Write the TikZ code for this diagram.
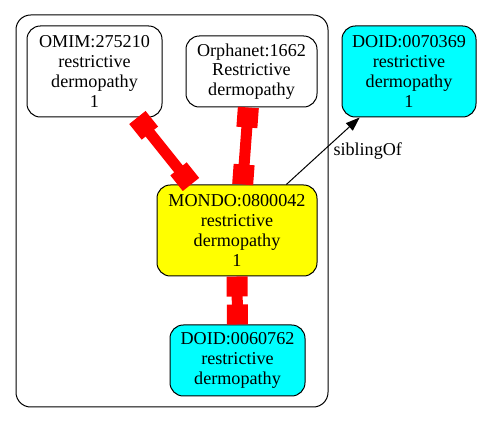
\documentclass[tikz,border=0pt]{standalone}
\usepackage{fontspec}
\setmainfont{Liberation Serif}
\usetikzlibrary{arrows.meta}
\definecolor{gvcyan}{RGB}{0,255,255}
\definecolor{gvyellow}{RGB}{255,255,0}
\definecolor{gvred}{RGB}{255,0,0}
\begin{document}
\begin{tikzpicture}[x=0.75pt,y=-0.75pt,
  termbox/.style={draw=black, line width=0.75pt, rounded corners=10pt, align=center,
    inner sep=0pt, font=\fontsize{13.6}{14.8}\selectfont},
  xref/.style={draw=gvred, line width=8.25pt,
    {Rectangle[length=15pt,width=15.75pt]}-{Rectangle[length=15pt,width=15.75pt]}},
  relarrow/.style={draw=black, line width=0.75pt, -{Triangle[length=10.5pt,width=7.5pt]}},
  rellabel/.style={font=\fontsize{13.6}{14.8}\selectfont, inner sep=0pt}]
\useasboundingbox (0,0) rectangle (482,423);
\draw[line width=0.75pt, rounded corners=11pt] (16,15) rectangle (328,407);
\node[termbox, fill=white, minimum width=101.25pt, minimum height=68.25pt] (omim) at (94.5,71.5)
  {OMIM:275210\\restrictive\\dermopathy\\1};
\node[termbox, fill=white, minimum width=98.25pt, minimum height=53.25pt] (orpha) at (251.5,71.5)
  {Orphanet:1662\\Restrictive\\dermopathy};
\node[termbox, fill=gvcyan, minimum width=100.5pt, minimum height=68.25pt] (doida) at (409,71.5)
  {DOID:0070369\\restrictive\\dermopathy\\1};
\node[termbox, fill=gvyellow, minimum width=120pt, minimum height=68.25pt] (mondo) at (237,230.5)
  {MONDO:0800042\\restrictive\\dermopathy\\1};
\node[termbox, fill=gvcyan, minimum width=101.25pt, minimum height=53.25pt] (doidb) at (237.5,360.5)
  {DOID:0060762\\restrictive\\dermopathy};
\draw[xref] (omim.-47) -- (mondo.135.3);
\draw[xref] (orpha.-95.6) -- (mondo.83.1);
\draw[xref] (mondo.south) -- (doidb.north);
\draw[relarrow] (mondo.43.5) -- node[rellabel, pos=0.5, anchor=west, xshift=7.5pt] {siblingOf} (doida.-137.1);
\end{tikzpicture}
\end{document}
